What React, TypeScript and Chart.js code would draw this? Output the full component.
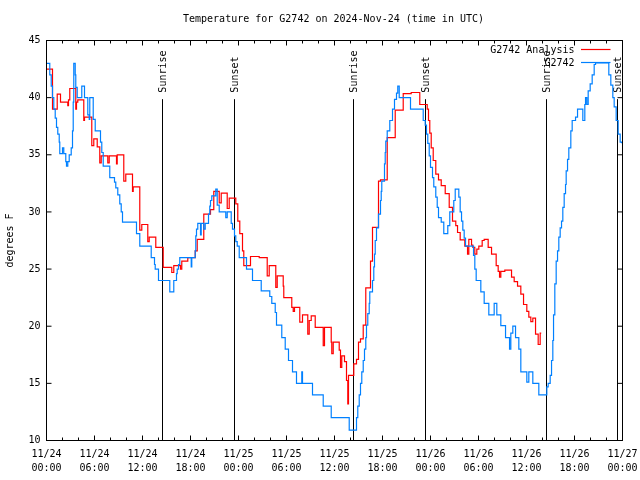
import React, { useEffect, useRef } from 'react';
import { Chart, registerables } from 'chart.js';

Chart.register(...registerables);

const TITLE = 'Temperature for G2742 on 2024-Nov-24 (time in UTC)';
const Y_TITLE = 'degrees F';
const FONT_FAMILY = "'DejaVu Sans Mono', 'Liberation Mono', monospace";

const X_TICK_DATES = ['11/24', '11/24', '11/24', '11/24', '11/25', '11/25', '11/25', '11/25', '11/26', '11/26', '11/26', '11/26', '11/27'];
const X_TICK_TIMES = ['00:00', '06:00', '12:00', '18:00', '00:00', '06:00', '12:00', '18:00', '00:00', '06:00', '12:00', '18:00', '00:00'];
const Y_TICKS = [10, 15, 20, 25, 30, 35, 40, 45];

const SUNRISE_HOURS = [14.55, 38.41, 62.46];
const SUNSET_HOURS = [23.54, 47.38, 71.41];
const SUN_LINE_TOP = 40;

const SERIES_NAMES = ['G2742 Analysis', 'G2742'];
const SERIES_COLORS = ['#ff0000', '#0080ff'];

// hours since 2024-11-24 00:00 UTC
const ANALYSIS_HOURS = [
  0, 0.75, 1.34, 1.75, 2.66, 2.75, 2.91, 3.66, 3.75, 3.91, 4.66, 4.75, 5.66, 5.91, 6.34, 6.66, 6.84, 7.66, 7.84, 8.75,
  8.84, 9.66, 9.91, 10.75, 10.84, 11.66, 11.91, 12.66, 12.84, 13.66, 14.59, 15.66, 15.91, 16.75, 16.91, 17.66, 18.59, 18.84, 19.66, 20.5,
  20.91, 21.59, 21.84, 22.59, 22.84, 23.66, 23.91, 24.16, 24.5, 24.66, 25.5, 26.59, 27.59, 27.84, 28.66, 28.84, 29.59, 29.66, 30.66, 30.84,
  31.0, 31.66, 32.0, 32.66, 32.84, 33.09, 33.59, 34.59, 34.75, 35.59, 35.66, 35.84, 36.59, 36.75, 36.91, 37.25, 37.5, 37.66, 37.75, 38.41,
  38.75, 39.0, 39.25, 39.59, 39.91, 40.5, 40.75, 41.5, 41.75, 42.59, 43.59, 44.59, 45.59, 46.66, 47.59, 47.75, 47.91, 48.09, 48.34, 48.66,
  49.0, 49.34, 49.84, 50.34, 50.75, 51.16, 51.38, 51.71, 52.29, 52.63, 52.79, 53.13, 53.29, 53.54, 53.79, 54.04, 54.46, 54.71, 55.21, 55.63,
  56.21, 56.46, 56.63, 56.79, 57.29, 58.13, 58.46, 58.88, 59.29, 59.63, 60.04, 60.29, 60.54, 60.79, 61.13, 61.46, 61.71, 61.84,
];
const ANALYSIS_TEMPS = [
  42.5, 39.0, 40.3, 39.6, 39.3, 39.8, 40.8, 39.0, 39.6, 39.8, 38.0, 38.3, 35.8, 36.4, 35.7, 34.3, 34.9, 34.3, 34.9, 34.2,
  35.0, 32.7, 33.3, 31.8, 32.2, 28.4, 28.9, 27.4, 27.8, 26.9, 25.15, 24.7, 25.3, 25.0, 25.7, 26.0, 26.6, 27.6, 29.8, 30.2,
  31.8, 30.8, 31.65, 30.3, 31.2, 30.7, 29.2, 28.1, 26.6, 25.3, 26.1, 26.0, 24.4, 25.3, 23.4, 24.4, 23.5, 22.5, 21.65, 21.3,
  21.65, 20.35, 21.0, 19.3, 20.5, 20.9, 19.9, 18.3, 19.9, 18.6, 17.6, 18.6, 17.9, 16.4, 17.4, 16.9, 15.25, 13.2, 15.7, 16.7,
  17.1, 18.6, 18.9, 20.1, 23.35, 25.7, 28.65, 32.7, 32.8, 36.5, 38.9, 40.35, 40.45, 39.4, 39.0, 38.0, 36.9, 35.6, 34.5, 33.3,
  32.8, 32.3, 31.6, 30.4, 29.2, 28.8, 28.2, 27.55, 27.0, 26.3, 27.6, 27.1, 26.9, 26.3, 26.75, 27.0, 27.5, 27.6, 26.9, 26.3,
  25.3, 24.8, 24.3, 24.8, 24.9, 24.3, 23.9, 23.5, 22.8, 21.9, 21.3, 20.8, 20.4, 20.7, 19.3, 18.4, 19.4, 19.4,
];

const OBS_HOURS = [
  0, 0.41, 0.59, 0.75, 0.91, 1.09, 1.25, 1.41, 1.59, 1.66, 2.0, 2.16, 2.41, 2.5, 2.66, 2.84, 3.09, 3.25, 3.34, 3.41,
  3.59, 3.66, 3.84, 4.41, 4.75, 5.16, 5.34, 5.41, 5.84, 6.09, 6.75, 6.91, 7.09, 7.91, 8.5, 8.66, 8.91, 9.16, 9.34, 9.5,
  11.25, 11.66, 13.09, 13.5, 13.59, 14.0, 15.41, 15.91, 16.25, 16.34, 16.5, 16.66, 18.09, 18.16, 18.59, 18.66, 18.75, 18.91, 19.25, 19.34,
  19.66, 19.84, 20.25, 20.41, 20.5, 20.66, 21.16, 21.34, 21.59, 22.41, 22.59, 23.09, 23.25, 23.5, 23.66, 23.84, 24.09, 25.0, 25.75, 26.84,
  27.91, 28.16, 28.59, 28.75, 29.41, 29.84, 30.25, 30.75, 31.25, 31.91, 32.0, 33.25, 34.59, 35.59, 37.84, 38.75, 38.91, 39.09, 39.25, 39.41,
  39.59, 39.75, 39.91, 40.0, 40.16, 40.34, 40.41, 40.75, 40.91, 41.0, 41.09, 41.25, 41.5, 41.75, 41.84, 41.91, 42.25, 42.34, 42.41, 42.59,
  42.91, 43.25, 43.5, 43.75, 43.91, 44.09, 45.5, 47.09, 47.34, 47.5, 47.66, 47.84, 48.0, 48.25, 48.41, 48.66, 48.84, 49.0, 49.34, 49.66,
  50.16, 50.41, 50.91, 51.09, 51.54, 51.71, 51.88, 52.04, 52.21, 52.38, 53.38, 53.54, 53.71, 54.29, 54.71, 55.29, 55.96, 56.29, 56.79, 57.38,
  57.88, 58.04, 58.29, 58.63, 59.04, 59.29, 60.04, 60.29, 60.79, 61.54, 62.54, 62.71, 62.96, 63.13, 63.29, 63.38, 63.54, 63.71, 63.88, 64.04,
  64.21, 64.38, 64.54, 64.71, 64.88, 64.96, 65.13, 65.29, 65.54, 65.71, 66.13, 66.38, 67.04, 67.29, 67.38, 67.54, 67.71, 67.96, 68.21, 68.46,
  68.63, 70.29, 70.54, 70.79, 70.96, 71.21, 71.46, 71.71, 71.9,
];
const OBS_TEMPS = [
  43.0, 42.0, 41.0, 40.0, 39.0, 38.2, 37.4, 36.8, 36.1, 35.1, 35.6, 35.1, 34.4, 34.0, 34.4, 35.0, 35.6, 37.1, 39.6, 43.0,
  42.0, 40.9, 40.0, 41.0, 40.0, 38.5, 38.1, 40.0, 38.1, 37.1, 36.1, 35.2, 34.0, 33.0, 32.6, 32.1, 31.5, 30.7, 30.0, 29.1,
  28.1, 27.0, 26.0, 25.4, 25.0, 24.0, 23.0, 24.0, 24.6, 25.0, 25.4, 26.0, 25.2, 26.0, 26.6, 27.9, 28.5, 29.0, 28.0, 29.0,
  28.5, 29.0, 29.8, 30.5, 31.0, 31.4, 32.0, 30.6, 30.0, 29.5, 30.0, 29.0, 28.5, 27.9, 27.4, 27.0, 26.0, 25.0, 24.0, 23.1,
  22.6, 22.0, 21.2, 20.1, 19.0, 18.0, 17.0, 16.0, 15.0, 16.0, 15.0, 14.0, 13.0, 12.0, 10.9, 12.0, 13.0, 14.0, 15.0, 16.0,
  17.0, 18.0, 19.0, 20.1, 21.1, 22.0, 23.0, 24.0, 25.2, 26.3, 27.5, 28.6, 29.8, 31.0, 31.8, 32.7, 34.2, 35.2, 36.2, 37.1,
  38.0, 39.0, 39.85, 40.4, 41.0, 40.0, 39.0, 38.0, 37.6, 36.8, 36.0, 34.9, 33.9, 33.0, 32.2, 31.3, 30.4, 29.5, 29.1, 28.1,
  28.8, 30.0, 31.0, 32.0, 31.3, 30.0, 29.2, 28.4, 27.7, 27.0, 26.2, 25.0, 24.0, 23.0, 22.0, 21.0, 22.0, 21.0, 20.05, 19.0,
  18.0, 19.4, 20.0, 19.0, 18.0, 16.0, 15.1, 16.0, 15.0, 14.0, 14.7, 15.0, 15.7, 17.0, 18.75, 21.0, 23.7, 25.7, 26.6, 27.8,
  28.6, 29.2, 30.4, 31.6, 32.4, 33.6, 34.6, 35.6, 37.1, 38.0, 38.3, 39.0, 38.0, 39.4, 40.0, 39.4, 40.6, 41.2, 42.0, 42.9,
  43.05, 42.0, 41.1, 40.0, 39.2, 38.0, 36.8, 36.1, 36.0,
];

const FONT = `10px ${FONT_FAMILY}`;

const decorPlugin = {
  id: 'gnuplotDecor',
  beforeDraw(chart: any) {
    const { ctx, width, height } = chart;
    ctx.save();
    ctx.fillStyle = '#ffffff';
    ctx.fillRect(0, 0, width, height);
    ctx.restore();
  },
  beforeDatasetsDraw(chart: any) {
    const { ctx, chartArea: a, scales } = chart;
    const x = scales.x;
    const y = scales.y;
    const top = y.getPixelForValue(SUN_LINE_TOP);
    ctx.save();
    ctx.strokeStyle = '#000';
    ctx.fillStyle = '#000';
    ctx.lineWidth = 1;
    ctx.font = FONT;
    const marks: [number, string][] = [
      ...SUNRISE_HOURS.map((h) => [h, 'Sunrise'] as [number, string]),
      ...SUNSET_HOURS.map((h) => [h, 'Sunset'] as [number, string]),
    ];
    for (const [h, label] of marks) {
      const px = Math.round(x.getPixelForValue(h) - 0.5) + 0.5;
      ctx.beginPath();
      ctx.moveTo(px, top + 1.5);
      ctx.lineTo(px, a.bottom);
      ctx.stroke();
      ctx.save();
      ctx.translate(px + 1, top - 5);
      ctx.rotate(-Math.PI / 2);
      ctx.textAlign = 'left';
      ctx.textBaseline = 'middle';
      ctx.fillText(label, 0, 0);
      ctx.restore();
    }
    ctx.restore();
  },
  afterDatasetsDraw(chart: any) {
    const { ctx, chartArea: a, scales } = chart;
    const x = scales.x;
    const y = scales.y;
    ctx.save();
    ctx.strokeStyle = '#000';
    ctx.lineWidth = 1;
    ctx.strokeRect(a.left, a.top, a.right - a.left, a.bottom - a.top);
    ctx.beginPath();
    for (let h = x.min; h <= x.max; h += 2) {
      const px = x.getPixelForValue(h);
      const len = h % 6 === 0 ? 5 : 3;
      ctx.moveTo(px, a.bottom);
      ctx.lineTo(px, a.bottom - len);
      ctx.moveTo(px, a.top);
      ctx.lineTo(px, a.top + len);
    }
    for (const v of Y_TICKS) {
      const py = y.getPixelForValue(v);
      ctx.moveTo(a.left, py);
      ctx.lineTo(a.left + 5, py);
      ctx.moveTo(a.right, py);
      ctx.lineTo(a.right - 5, py);
    }
    ctx.stroke();

    // legend (gnuplot style, inside top right)
    ctx.font = FONT;
    ctx.textAlign = 'right';
    ctx.textBaseline = 'middle';
    SERIES_NAMES.forEach((name, i) => {
      const ly = a.top + 9 + i * 13;
      ctx.fillStyle = '#000';
      ctx.fillText(name, a.right - 48, ly + 0.5);
      ctx.strokeStyle = SERIES_COLORS[i];
      ctx.lineWidth = 1.2;
      ctx.beginPath();
      ctx.moveTo(a.right - 41.5, ly);
      ctx.lineTo(a.right - 12, ly);
      ctx.stroke();
    });
    ctx.restore();
  },
  afterDraw(chart: any) {
    const { ctx, chartArea: a } = chart;
    ctx.save();
    ctx.font = FONT;
    ctx.fillStyle = '#000';
    ctx.textAlign = 'center';
    ctx.textBaseline = 'middle';
    ctx.fillText(TITLE, (a.left + a.right) / 2 - 1, 19.5);
    ctx.translate(10.5, (a.top + a.bottom) / 2);
    ctx.rotate(-Math.PI / 2);
    ctx.fillText(Y_TITLE, 0, 0);
    ctx.restore();
  },
};

export default function App() {
  const canvasRef = useRef<HTMLCanvasElement | null>(null);

  useEffect(() => {
    document.body.style.margin = '0';
    const canvas = canvasRef.current;
    if (!canvas) return;
    const chart = new Chart(canvas, {
      type: 'line',
      data: {
        datasets: [
          {
            label: SERIES_NAMES[1],
            data: OBS_HOURS.map((h, i) => ({ x: h, y: OBS_TEMPS[i] })),
            borderColor: SERIES_COLORS[1],
            borderWidth: 1.2,
            pointRadius: 0,
            stepped: true,
            fill: false,
            order: 0,
          },
          {
            label: SERIES_NAMES[0],
            data: ANALYSIS_HOURS.map((h, i) => ({ x: h, y: ANALYSIS_TEMPS[i] })),
            borderColor: SERIES_COLORS[0],
            borderWidth: 1.2,
            pointRadius: 0,
            stepped: true,
            fill: false,
            order: 1,
          },
        ],
      },
      options: {
        responsive: false,
        animation: false,
        devicePixelRatio: 1,
        events: [],
        layout: { padding: { top: 40.5, right: 17.5, bottom: 0, left: 0 } },
        plugins: {
          legend: { display: false },
          tooltip: { enabled: false },
          title: { display: false },
        },
        scales: {
          x: {
            type: 'linear',
            min: 0,
            max: 72,
            grid: { display: false, drawTicks: false },
            border: { display: false },
            afterFit: (s: any) => {
              s.height = 39.5;
              s.paddingLeft = 0;
              s.paddingRight = 0;
            },
            ticks: {
              stepSize: 6,
              autoSkip: false,
              maxRotation: 0,
              minRotation: 0,
              padding: 7,
              color: '#000',
              font: { family: FONT_FAMILY, size: 10, lineHeight: 1.4 },
              callback: (v: any) => {
                const i = Math.round(Number(v) / 6);
                return [X_TICK_DATES[i], X_TICK_TIMES[i]];
              },
            },
          },
          y: {
            min: 10,
            max: 45,
            grid: { display: false, drawTicks: false },
            border: { display: false },
            afterFit: (s: any) => {
              s.width = 46.5;
              s.paddingTop = 0;
              s.paddingBottom = 0;
            },
            ticks: {
              stepSize: 5,
              padding: 6,
              color: '#000',
              font: { family: FONT_FAMILY, size: 10 },
            },
          },
        },
      },
      plugins: [decorPlugin],
    } as any);
    return () => chart.destroy();
  }, []);

  return <canvas ref={canvasRef} width={640} height={480} style={{ display: 'block' }} />;
}
